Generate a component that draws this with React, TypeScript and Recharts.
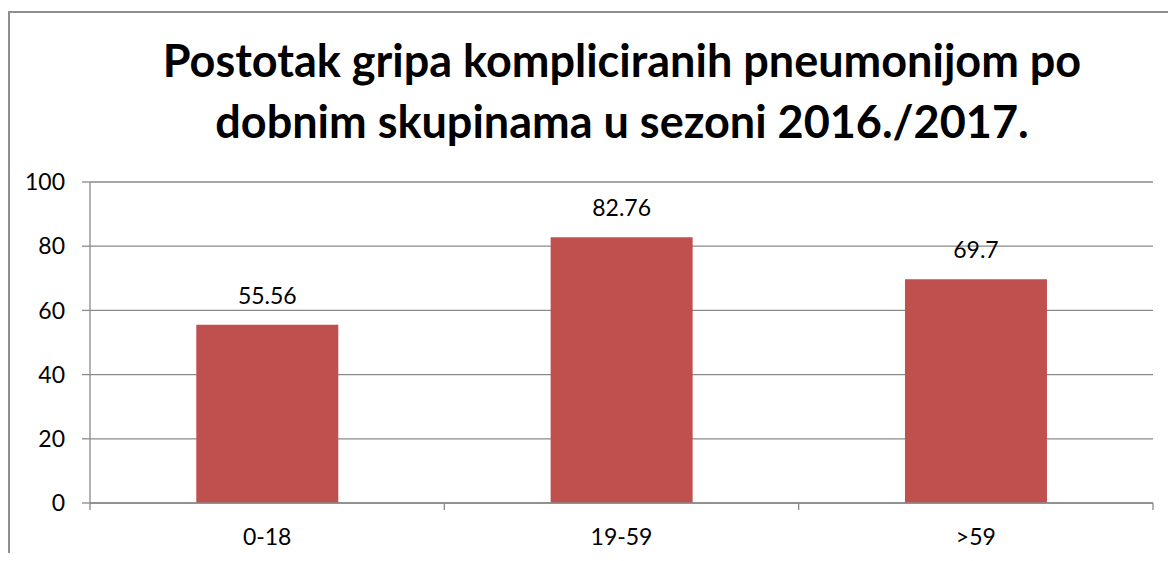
import React from 'react'
import { BarChart, Bar, XAxis, YAxis, CartesianGrid, LabelList } from 'recharts'

// age groups and share of flu cases complicated by pneumonia (%)
const categories = ['0-18', '19-59', '>59']
const values = [55.56, 82.76, 69.7]
const yTicks = [0, 20, 40, 60, 80, 100]

const titleLines = [
  'Postotak gripa kompliciranih pneumonijom po',
  'dobnim skupinama u sezoni 2016./2017.',
]

const data = categories.map((group, i) => ({ group, value: values[i] }))

const W = 1168
const H = 545
const margin = { top: 174, right: 23, bottom: 20, left: 22 }
const yAxisWidth = 60
const band = (W - margin.left - margin.right - yAxisWidth) / categories.length
const axisColor = '#8a8a8a'
const font = 'Lato, "Open Sans", sans-serif'

const XTick = (props: any) => {
  const { x, y, payload, index } = props
  const half = band / 2
  return (
    <g>
      <line x1={x - half} y1={y} x2={x - half} y2={y + 7} stroke={axisColor} strokeWidth={1.3} />
      {index === categories.length - 1 && (
        <line x1={x + half} y1={y} x2={x + half} y2={y + 7} stroke={axisColor} strokeWidth={1.3} />
      )}
      <text x={x} y={y + 42} textAnchor="middle" fontSize={23} fill="#000" fontFamily={font}>
        {payload.value}
      </text>
    </g>
  )
}

export default function App() {
  return (
    <div style={{ position: 'relative', width: W, height: H, overflow: 'hidden', fontFamily: font }}>
      <div
        style={{
          position: 'absolute',
          left: 0,
          top: 3,
          width: 1300,
          height: 700,
          border: '2px solid #8e8e8e',
          boxSizing: 'border-box',
        }}
      />
      <div
        style={{
          position: 'absolute',
          left: 114,
          top: 22,
          width: 1000,
          textAlign: 'center',
          fontWeight: 700,
          fontSize: 45,
          lineHeight: '61px',
          color: '#000',
          whiteSpace: 'nowrap',
        }}
      >
        {titleLines.map((t) => (
          <div key={t}>{t}</div>
        ))}
      </div>
      <BarChart
        width={W}
        height={H}
        data={data}
        margin={margin}
        barCategoryGap="30%"
        style={{ position: 'absolute', left: 0, top: 0 }}
      >
        <CartesianGrid vertical={false} stroke={axisColor} strokeWidth={1.3} />
        <XAxis
          dataKey="group"
          interval={0}
          tickSize={0}
          tickMargin={0}
          axisLine={{ stroke: axisColor, strokeWidth: 1.3 }}
          tickLine={false}
          tick={<XTick />}
        />
        <YAxis
          width={yAxisWidth}
          domain={[0, 100]}
          ticks={yTicks}
          interval={0}
          tickSize={8}
          tickMargin={17}
          axisLine={{ stroke: axisColor, strokeWidth: 1.3 }}
          tickLine={{ stroke: axisColor, strokeWidth: 1.3 }}
          tick={{ fill: '#000', fontSize: 23, fontFamily: font }}
        />
        <Bar dataKey="value" fill="#C0504D" isAnimationActive={false}>
          <LabelList dataKey="value" position="top" offset={21} fill="#000" fontSize={23} fontFamily={font} />
        </Bar>
      </BarChart>
    </div>
  )
}
